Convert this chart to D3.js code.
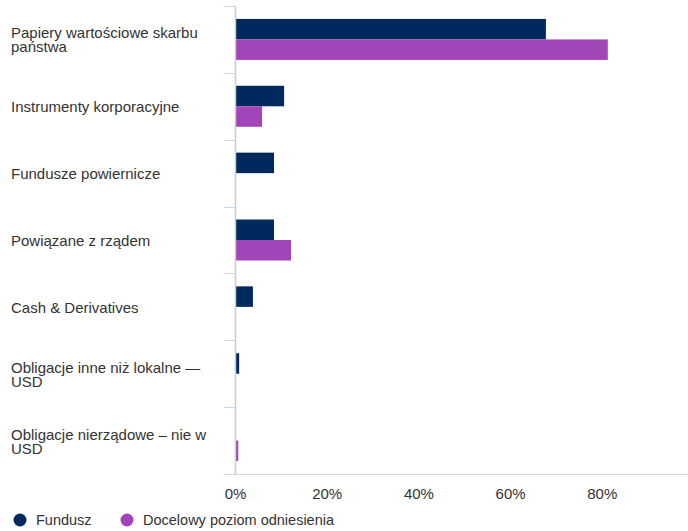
<!DOCTYPE html>
<html><head><meta charset="utf-8">
<script src="https://cdn.jsdelivr.net/npm/d3@7/dist/d3.min.js"></script>
<style>body{margin:0;background:#fff;}svg{display:block;font-family:"Liberation Sans",Arial,sans-serif;}</style>
</head><body>
<script>
const categories = ["Papiery wartościowe skarbu państwa","Instrumenty korporacyjne","Fundusze powiernicze","Powiązane z rządem","Cash & Derivatives","Obligacje inne niż lokalne — USD","Obligacje nierządowe – nie w USD"];
const seriesNames = ["Fundusz","Docelowy poziom odniesienia"];
const fundusz = [67.7, 10.6, 8.4, 8.4, 3.8, 0.8, 0];
const docelowy = [81.2, 5.8, 0, 12.1, 0, 0, 0.6];
const tickValues = [0, 20, 40, 60, 80];
const colors = ["#002a5e", "#a245b9"];

const W = 688, H = 531;
const svg = d3.select("body").append("svg").attr("width", W).attr("height", H);

const x = d3.scaleLinear().domain([0, 100]).range([235.5, 694]);
const y = d3.scaleBand().domain(categories).range([6, 474]).padding(0);
const inner = d3.scaleBand().domain(seriesNames).range([0, 41]);
const seriesData = [fundusz, docelowy];

// category tick marks
svg.append("g").selectAll("line").data(d3.range(categories.length + 1)).join("line")
  .attr("x1", 224).attr("x2", 235.5)
  .attr("y1", i => Math.round(6 + i * y.bandwidth()) + 0.5)
  .attr("y2", i => Math.round(6 + i * y.bandwidth()) + 0.5)
  .attr("stroke", "#ccd6eb").attr("stroke-width", 1);

// bars
seriesNames.forEach((s, si) => {
  svg.append("g").selectAll("rect").data(categories).join("rect")
    .attr("x", x(0))
    .attr("y", c => y(c) + (y.bandwidth() - 41) / 2 + inner(s))
    .attr("width", (c, i) => Math.max(0, x(seriesData[si][i]) - x(0)))
    .attr("height", inner.bandwidth())
    .attr("fill", colors[si]);
});

// zero line
svg.append("line").attr("x1", x(0)).attr("x2", x(0)).attr("y1", 6).attr("y2", 474)
  .attr("stroke", "#cccccc").attr("stroke-width", 1.5);
// bottom axis line
svg.append("line").attr("x1", 224).attr("x2", 688).attr("y1", 474.5).attr("y2", 474.5)
  .attr("stroke", "#ccd6eb").attr("stroke-width", 1);

// x tick labels
svg.append("g").selectAll("text").data(tickValues).join("text")
  .attr("x", d => x(d)).attr("y", 499).attr("text-anchor", "middle")
  .attr("font-size", 15).attr("fill", "#333").text(d => d + "%");

// category labels with wrapping
const lab = svg.append("g");
categories.forEach(c => {
  const words = c.split(" ");
  const t = lab.append("text").attr("font-size", 15).attr("fill", "#333");
  let lines = [], cur = [];
  const tmp = t.append("tspan");
  words.forEach(w => {
    const test = cur.concat([w]).join(" ");
    tmp.text(test);
    if (tmp.node().getComputedTextLength() > 212 && cur.length) { lines.push(cur.join(" ")); cur = [w]; }
    else cur.push(w);
  });
  lines.push(cur.join(" "));
  tmp.remove();
  const lh = 14;
  const cy = y(c) + y.bandwidth() / 2;
  const y0 = cy - (lines.length - 1) * lh / 2 + 6;
  lines.forEach((l, i) => t.append("tspan").attr("x", 11).attr("y", y0 + i * lh).text(l));
});

// legend
const leg = svg.append("g");
const legX = [20, 127];
seriesNames.forEach((s, i) => {
  leg.append("circle").attr("cx", legX[i]).attr("cy", 520).attr("r", 6.5).attr("fill", colors[i]);
  leg.append("text").attr("x", legX[i] + 16).attr("y", 525).attr("font-size", 14.5).attr("fill", "#333").text(s);
});
</script>
</body></html>
